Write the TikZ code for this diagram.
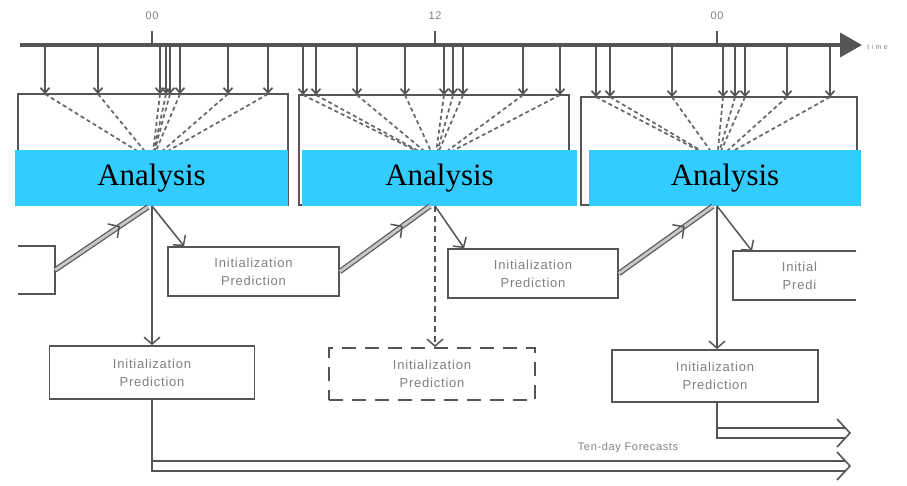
\documentclass[tikz,border=0pt]{standalone}
\usepackage{fontspec}
\setmainfont{Liberation Serif}
\newfontfamily\lblfont[LetterSpace=6]{Liberation Sans}
\usepackage{tikz}
\usetikzlibrary{arrows.meta,calc,decorations.markings}
\definecolor{anablue}{RGB}{51,204,255}
\definecolor{inkgray}{RGB}{85,85,85}
\tikzset{every picture/.style={line width=0.75pt}}
\tikzset{
  anabar/.style={fill=anablue, draw=none, minimum height=56pt, inner sep=0pt, font=\fontsize{31}{34}\selectfont},
  winbox/.style={draw=inkgray, line width=1.5pt, fill=white, inner sep=0pt},
  predbox/.style={draw=inkgray, line width=1.8pt, fill=white, align=center, inner sep=0pt, text=gray, font=\lblfont\fontsize{13}{18}\selectfont},
  lbl/.style={text=gray, inner sep=1pt, font=\lblfont\fontsize{11}{13}\selectfont},
  obsarrow/.style={draw=inkgray, line width=1.7pt, -{Straight Barb[length=5pt,width=9pt]}},
  fanline/.style={draw=inkgray!90, line width=1.7pt, dash pattern=on 4pt off 3pt},
  downarrow/.style={draw=inkgray, line width=1.5pt, -{Straight Barb[length=7pt,width=16pt]}},
  assim/.style={preaction={draw=inkgray, line width=1.2pt, double=gray!45, double distance=3pt},
    postaction={decorate}, decoration={markings, mark=at position 0.7 with {\arrow[inkgray, line width=1.5pt]{Straight Barb[length=8pt,width=17pt]}}}},
  fcline/.style={draw=inkgray, line width=1.6pt}
}

\begin{document}
\begin{tikzpicture}[x=1pt,y=1pt,yscale=-1,xscale=1]
\useasboundingbox (0,0) rectangle (907,485);

%Analysis windows
\node[winbox, minimum width=270pt, minimum height=111pt] (win1) at (153,149.5) {};
\node[winbox, minimum width=270pt, minimum height=110pt] (win2) at (434,150) {};
\node[winbox, minimum width=276pt, minimum height=108pt] (win3) at (719,151) {};
\coordinate (f1) at (152,160);
\coordinate (f2) at (435,160);
\coordinate (f3) at (717,160);

%Observations and their spread to the analysis time
\foreach \x in {45,98,160,166,170,180,228,268} {
  \draw[fanline] (\x,94) -- (f1);
  \draw[obsarrow] (\x,45) -- (\x,94);
}
\foreach \x in {303,316,357,405,444,453,463,523,560} {
  \draw[fanline] (\x,95) -- (f2);
  \draw[obsarrow] (\x,45) -- (\x,95);
}
\foreach \x in {596,610,672,723,735,745,787,830} {
  \draw[fanline] (\x,97) -- (f3);
  \draw[obsarrow] (\x,45) -- (\x,97);
}

%Time axis
\coordinate (axL) at (20,45);
\coordinate (axR) at (862,45);
\draw[draw=inkgray, line width=3.8pt, -{Triangle[length=22pt,width=24pt]}] (axL) -- (axR);
\node[lbl, font=\lblfont\fontsize{7}{8}\selectfont, anchor=west] (tlbl) at (866,47) {t i m e};
\node[lbl] (t1) at (152,16) {00};
\node[lbl] (t2) at (435,16) {12};
\node[lbl] (t3) at (717,16) {00};
\foreach \n/\x in {t1/152,t2/435,t3/717}
  \draw[draw=inkgray, line width=1.6pt] (\n.south |- 0,31) -- (\x,45);

%Analysis bars
\node[anabar, minimum width=273pt] (ana1) at (151.5,178) {Analysis};
\node[anabar, minimum width=275pt] (ana2) at (439.5,178) {Analysis};
\node[anabar, minimum width=272pt] (ana3) at (725,178) {Analysis};
\coordinate (a1) at (152,206);
\coordinate (a2) at (435,206);
\coordinate (a3) at (717,206);

%Short-range predictions
\node[predbox, minimum width=171pt, minimum height=49pt] (p1) at (253.5,271.5) {Initialization\\Prediction};
\node[predbox, minimum width=170pt, minimum height=49pt] (p2) at (533,273.5) {Initialization\\Prediction};
\node[predbox, draw=none, fill=none, anchor=west] (p3) at (781,275.5) {Initial\\Predi};
\draw[fcline] (856,251) -- (733,251) -- (733,300) -- (856,300);
\draw[fcline] (18,246) -- (55,246) -- (55,294) -- (18,294);
\coordinate (prev) at (55,270);

\draw[downarrow] (a1) -- ($(p1.north west)+(17,0)$);
\draw[downarrow] (a2) -- ($(p2.north west)+(17,0)$);
\draw[downarrow] (a3) -- (752,251);

%Assimilation of the first guess
\path[assim] (prev) -- ($(a1)+(-4,1)$);
\path[assim] (p1.east) -- ($(a2)+(-5,0)$);
\path[assim] (p2.east) -- ($(a3)+(-4,0)$);

%Long-range predictions
\node[predbox, minimum width=205pt, minimum height=53pt] (l1) at (152,372.5) {Initialization\\Prediction};
\node[predbox, minimum width=206pt, minimum height=52pt, dash pattern=on 14pt off 9pt] (l2) at (432,374) {Initialization\\Prediction};
\node[predbox, minimum width=206pt, minimum height=52pt] (l3) at (715,376) {Initialization\\Prediction};
\draw[downarrow] (a1) -- (a1 |- l1.north);
\draw[downarrow, dash pattern=on 6pt off 4pt] (a2) -- (a2 |- l2.north);
\draw[downarrow] (a3) -- (a3 |- l3.north);

%Forecast runs
\coordinate (fc1) at (850,466);
\coordinate (fcA) at (846,461);
\coordinate (fcB) at (846,471);
\draw[fcline] (l1.south) |- (fcB);
\draw[fcline] (l1.south |- fcA) -- (fcA);
\draw[fcline] ($(fc1)+(-13,-14)$) -- (fc1) -- ($(fc1)+(-13,14)$);
\coordinate (fc2) at (850,433);
\coordinate (fcC) at (846,428);
\coordinate (fcD) at (846,438);
\draw[fcline] (l3.south -| a3) |- (fcD);
\draw[fcline] (a3 |- fcC) -- (fcC);
\draw[fcline] ($(fc2)+(-13,-14)$) -- (fc2) -- ($(fc2)+(-13,14)$);
\node[lbl] (fclbl) at (628,448) {Ten-day Forecasts};
\end{tikzpicture}
\end{document}
